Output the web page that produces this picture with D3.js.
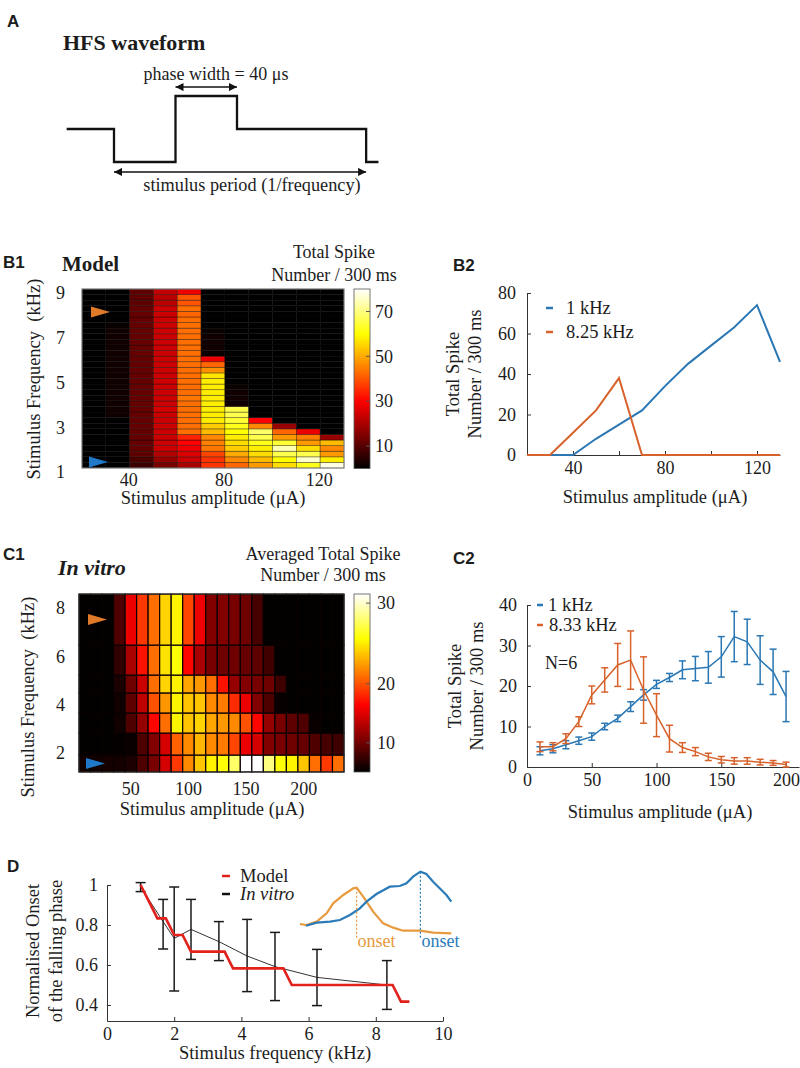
<!DOCTYPE html>
<html>
<head>
<meta charset="utf-8">
<script src="https://cdn.jsdelivr.net/npm/d3@7"></script>
<style>
  html,body{margin:0;padding:0;background:#fff;}
  svg{display:block;}
</style>
</head>
<body>
<svg id="fig" width="800" height="1068" xmlns="http://www.w3.org/2000/svg"></svg>
<script>
// ======================= DATA =======================
// Panel A : schematic HFS waveform (time in phase-width units, relative level)
const waveTime  = [-0.77, 0, 0, 1, 1, 2, 2, 4.1, 4.1, 4.3];
const waveLevel = [0, 0, -1, -1, 1, 1, 0, 0, -1, -1];

// Panel B1 : model heat map (pcolor cells: amplitude start, frequency start)
const b1Amps  = [20, 30, 40, 50, 60, 70, 80, 90, 100, 110, 120];
const b1Freqs = [1.00,1.25,1.50,1.75,2.00,2.25,2.50,2.75,3.00,3.25,3.50,3.75,4.00,4.25,4.50,4.75,
                 5.00,5.25,5.50,5.75,6.00,6.25,6.50,6.75,7.00,7.25,7.50,7.75,8.00,8.25,8.50,8.75];
const b1Spikes = [
  [0, 0,  7, 14, 20, 36, 42, 48, 56, 62, 78],
  [0, 0,  9, 18, 24, 36, 46, 52, 60, 76, 58],
  [0, 0, 11, 21, 26, 38, 50, 56, 66, 66, 48],
  [0, 0, 12, 24, 28, 44, 54, 58, 74, 56, 46],
  [0, 0, 12, 24, 30, 45, 56, 62, 64, 48, 52],
  [0, 0, 12, 24, 34, 46, 58, 66, 48, 45, 18],
  [0, 0, 12, 24, 43, 52, 60, 68, 42, 28,  0],
  [0, 0, 12, 24, 43, 54, 62, 46, 18,  0,  0],
  [0, 0, 12, 24, 43, 58, 64, 30,  0,  0,  0],
  [0, 2, 12, 24, 43, 58, 66,  0,  0,  0,  0],
  [0, 2, 12, 25, 43, 58, 66,  0,  0,  0,  0],
  [0, 2, 12, 24, 43, 58,  2,  0,  0,  0,  0],
  [0, 2, 12, 24, 44, 58,  2,  0,  0,  0,  0],
  [0, 2, 12, 24, 43, 58,  2,  0,  0,  0,  0],
  [0, 2, 12, 24, 43, 58,  1,  0,  0,  0,  0],
  [0, 2, 12, 24, 43, 58,  0,  0,  0,  0,  0],
  [0, 2, 12, 24, 43, 57,  0,  0,  0,  0,  0],
  [0, 2, 12, 24, 43, 47,  0,  0,  0,  0,  0],
  [0, 2, 12, 24, 43, 42,  0,  0,  0,  0,  0],
  [0, 2, 12, 24, 43, 28,  0,  0,  0,  0,  0],
  [0, 2, 12, 24, 43,  1,  0,  0,  0,  0,  0],
  [0, 2, 12, 24, 43,  2,  0,  0,  0,  0,  0],
  [0, 2, 12, 24, 43,  2,  0,  0,  0,  0,  0],
  [0, 2, 12, 24, 43,  2,  0,  0,  0,  0,  0],
  [0, 2, 12, 24, 43,  1,  0,  0,  0,  0,  0],
  [0, 1, 12, 24, 43,  0,  0,  0,  0,  0,  0],
  [0, 0, 12, 24, 43,  0,  0,  0,  0,  0,  0],
  [0, 0, 12, 24, 42,  0,  0,  0,  0,  0,  0],
  [0, 0, 12, 24, 43,  0,  0,  0,  0,  0,  0],
  [0, 0, 11, 22, 40,  0,  0,  0,  0,  0,  0],
  [0, 0, 11, 22, 40,  0,  0,  0,  0,  0,  0],
  [0, 0, 11, 23, 28,  0,  0,  0,  0,  0,  0]
];
const b1TickY = [1, 3, 5, 7, 9];
const b1TickX = [40, 80, 120];
const b1BarTicks = [10, 30, 50, 70];
const b1MarkFreq = [7.97, 1.27];   // arrowheads: 8.25 kHz and 1 kHz rows

// Panel B2 : model spike counts
const b2Amps   = [20, 30, 40, 50, 60, 70, 80, 90, 100, 110, 120, 130];
const b2OneKHz = [0, 0, 0, 8, 15, 22, 34, 45, 54, 63, 74, 46];
const b2Eight  = [0, 0, 11, 22, 38, 0, 0, 0, 0, 0, 0, 0];
const b2TickX  = [40, 60, 80, 100, 120];
const b2LabelX = [40, 80, 120];
const b2TickY  = [0, 20, 40, 60, 80];

// Panel C1 : in vitro heat map (7 frequency bins x 23 amplitudes)
const c1Amps = [10,20,30,40,50,60,70,80,90,100,110,120,130,140,150,160,170,180,190,200,210,220,230];
const c1FreqEdges = [1.05, 1.75, 2.66, 3.49, 4.32, 5.06, 6.30, 8.41];
const c1Spikes = [
  [3, 3, 3.5, 3.5, 4, 8, 10.5, 15, 19, 22, 24, 25.5, 26, 28, 31, 31, 28.5, 26, 25.5, 24, 21, 19, 21],
  [1, 1, 1, 1.5, 2, 8, 11, 15, 20.5, 22, 23.5, 22, 21.5, 19.5, 16, 15, 11, 10.5, 10, 9.5, 8, 7.5, 7],
  [1, 1, 1, 3, 8, 12, 17, 21, 25.5, 24, 24.5, 23, 22.5, 22, 20, 17, 12, 10.5, 9, 8, 2, 1, 1],
  [1, 1, 1, 3, 9, 14, 20, 22.5, 25.5, 24, 24, 22, 21.5, 18.5, 16, 11, 8, 2, 1, 1, 1, 1, 1],
  [1, 1, 1, 4, 10, 14.5, 21, 24.5, 25.5, 23, 22.5, 21, 17.5, 12, 11, 10.5, 10, 7, 1, 1, 1, 1, 1],
  [1, 1, 1, 6, 13, 17.5, 21, 25, 26, 17, 13, 10.5, 10, 10, 9.5, 9, 7, 1, 1, 1, 1, 1, 1],
  [1, 1, 1, 8, 16, 19, 21, 24.5, 25.5, 19.5, 16, 11, 11, 10.5, 10, 7.5, 1, 1, 1, 1, 1, 1, 1]
];
const c1TickY = [2, 4, 6, 8];
const c1TickX = [50, 100, 150, 200];
const c1BarTicks = [10, 20, 30];

// Panel C2 : in vitro spike counts (mean ± error)
const c2Amps      = [10,20,30,40,50,60,70,80,90,100,110,120,130,140,150,160,170,180,190,200];
const c2OneKHz    = [4.0, 4.5, 5.5, 6.5, 7.5, 10.0, 12.0, 14.9, 17.8, 20.4, 22.1, 24.0, 24.3, 24.6, 27.2, 32.2, 30.9, 26.4, 23.5, 17.4];
const c2OneErr    = [1.0, 1.0, 1.0, 0.9, 0.9, 0.8, 0.8, 1.2, 1.3, 1.0, 1.0, 2.2, 3.0, 3.9, 5.0, 6.2, 5.6, 6.0, 5.6, 6.2];
const c2Eight     = [5.0, 5.0, 7.0, 11.2, 17.8, 21.5, 25.2, 26.4, 19.0, 12.8, 7.0, 4.8, 3.8, 2.5, 1.8, 1.5, 1.5, 1.2, 1.0, 0.6];
const c2EightErr  = [1.2, 1.0, 1.2, 1.2, 2.2, 3.0, 5.3, 7.2, 8.2, 5.3, 3.3, 1.2, 1.0, 0.9, 0.8, 0.8, 0.8, 0.7, 0.6, 0.6];
const c2TickX = [0, 50, 100, 150, 200];
const c2TickY = [0, 10, 20, 30, 40];

// Panel D : normalised onset of the falling phase
const dModelFreq = [1,1.25,1.5,1.75,2,2.25,2.5,2.75,3,3.25,3.5,3.75,4,4.25,4.5,4.75,5,5.25,5.5,5.75,6,6.25,6.5,6.75,7,7.25,7.5,7.75,8,8.25,8.5,8.75,9];
const dModel = [1.0,0.917,0.833,0.833,0.75,0.75,0.667,0.667,0.667,0.667,0.667,0.583,0.583,0.583,0.583,0.583,0.583,0.583,
                0.5,0.5,0.5,0.5,0.5,0.5,0.5,0.5,0.5,0.5,0.5,0.5,0.5,0.417,0.417];
const dVitroFreq = [1, 1.67, 2, 2.5, 3.33, 4.17, 5, 6.25, 8.33];
const dVitroMean = [0.99, 0.817, 0.733, 0.778, 0.717, 0.645, 0.592, 0.538, 0.50];
const dVitroLo   = [0.967, 0.68, 0.47, 0.628, 0.622, 0.467, 0.422, 0.397, 0.378];
const dVitroHi   = [1.012, 0.928, 0.99, 0.928, 0.817, 0.828, 0.763, 0.678, 0.622];
const dTickX = [0, 2, 4, 6, 8, 10];
const dTickY = [0.4, 0.6, 0.8, 1];
// Inset sketch (normalised 0..1 coordinates)
const insetOrangeX = [0,0.043,0.109,0.174,0.217,0.283,0.348,0.37,0.413,0.478,0.543,0.609,0.674,0.783,0.87,0.989];
const insetOrangeY = [0.174,0.158,0.211,0.342,0.5,0.632,0.737,0.747,0.605,0.368,0.184,0.116,0.068,0.068,0.037,0.026];
const insetBlueX = [0.039,0.109,0.196,0.261,0.326,0.391,0.435,0.5,0.587,0.652,0.696,0.739,0.787,0.826,0.87,0.913,0.957,0.989];
const insetBlueY = [0.147,0.195,0.211,0.237,0.316,0.421,0.526,0.647,0.763,0.774,0.816,0.921,1.0,0.963,0.842,0.737,0.632,0.526];
const insetOnsetX = [0.37, 0.787];

// ======================= DRAWING =======================
const svg = d3.select("#fig");
const SERIF = '"Liberation Serif", "Times New Roman", Times, serif';
const SANS  = '"Liberation Sans", Arial, Helvetica, sans-serif';
const INK = "#1c1c1c";
const BLUE = "#2a77b4", ORANGE = "#d8622b", RED = "#e2201c";
const IN_OR = "#e89a3e", IN_BL = "#2b7bb9";

function hot(t) {
  t = Math.max(0, Math.min(1, t));
  const r = Math.min(1, t / 0.375);
  const g = Math.max(0, Math.min(1, (t - 0.375) / 0.375));
  const b = Math.max(0, Math.min(1, (t - 0.75) / 0.25));
  return d3.rgb(255 * r, 255 * g, 255 * b).formatHex();
}
function txt(p, x, y, s, o = {}) {
  return p.append("text").attr("x", x).attr("y", y).text(s)
    .attr("font-family", o.family || SERIF).attr("font-size", o.size || 18)
    .attr("font-weight", o.weight || null).attr("font-style", o.style || null)
    .attr("text-anchor", o.anchor || "start").attr("fill", o.fill || INK)
    .style("white-space", "pre");
}
function vtxt(p, cx, cy, s, o = {}) {
  return p.append("text").attr("transform", `translate(${cx},${cy}) rotate(-90)`)
    .attr("dy", "0.35em").text(s)
    .attr("font-family", o.family || SERIF).attr("font-size", o.size || 18.5)
    .attr("text-anchor", "middle").attr("fill", INK).style("white-space", "pre");
}
function axisStyle(sel) {
  sel.attr("font-family", SERIF).attr("font-size", 18);
  sel.selectAll(".tick text").attr("fill", INK);
  sel.selectAll(".tick line").attr("stroke", "#333");
  sel.select(".domain").attr("stroke", "#333");
}
const defs = svg.append("defs");
defs.append("marker").attr("id", "arr").attr("viewBox", "0 0 10 10")
  .attr("refX", 10).attr("refY", 5).attr("markerWidth", 11).attr("markerHeight", 8)
  .attr("markerUnits", "userSpaceOnUse").attr("orient", "auto-start-reverse")
  .append("path").attr("d", "M0,0L10,5L0,10z").attr("fill", "#111");
function hotGradient(id) {
  const g = defs.append("linearGradient").attr("id", id)
    .attr("x1", 0).attr("y1", 1).attr("x2", 0).attr("y2", 0);
  [[0, "#000000"], [0.375, "#ff0000"], [0.75, "#ffff00"], [1, "#ffffff"]]
    .forEach(([o, c]) => g.append("stop").attr("offset", o).attr("stop-color", c));
}
hotGradient("hotB"); hotGradient("hotC");

// Panel letters
const L = {family: SANS, weight: "bold", size: 17};
txt(svg, 7, 27, "A", L);
txt(svg, 3, 268, "B1", L);
txt(svg, 453, 271, "B2", L);
txt(svg, 3, 560, "C1", L);
txt(svg, 453, 564, "C2", L);
txt(svg, 7, 872, "D", L);

// ---------------- Panel A ----------------
{
  const xA = d3.scaleLinear().domain([0, 1]).range([114, 175.5]);
  const yA = d3.scaleLinear().domain([-1, 1]).range([162, 96]);
  const g = svg.append("g");
  txt(g, 63, 50, "HFS waveform", {weight: "bold", size: 22});
  g.append("path").datum(d3.range(waveTime.length))
    .attr("d", d3.line().x(i => xA(waveTime[i])).y(i => yA(waveLevel[i])))
    .attr("fill", "none").attr("stroke", "#111").attr("stroke-width", 2.3);
  g.append("line").attr("x1", xA(1)).attr("x2", xA(2)).attr("y1", yA(1.27)).attr("y2", yA(1.27))
    .attr("stroke", "#111").attr("stroke-width", 1.5)
    .attr("marker-start", "url(#arr)").attr("marker-end", "url(#arr)");
  g.append("line").attr("x1", xA(0)).attr("x2", xA(4.1)).attr("y1", yA(-1.3)).attr("y2", yA(-1.3))
    .attr("stroke", "#111").attr("stroke-width", 1.5)
    .attr("marker-start", "url(#arr)").attr("marker-end", "url(#arr)");
  txt(g, 216, 80, "phase width = 40 \u03bcs", {anchor: "middle", size: 18});
  txt(g, 252, 191, "stimulus period (1/frequency)", {anchor: "middle", size: 18.3});
}

// ---------------- Panel B1 ----------------
{
  const xB1 = d3.scaleLinear().domain([20, 130]).range([82, 344]);
  const yB1 = d3.scaleLinear().domain([1, 9]).range([468, 289]);
  const cB1 = d3.scaleLinear().domain([0, 80]).range([0, 1]).clamp(true);
  const g = svg.append("g");
  const cells = [];
  b1Freqs.forEach((f, i) => b1Amps.forEach((a, j) => cells.push({a, f, v: b1Spikes[i][j]})));
  g.selectAll("rect.cell").data(cells).join("rect").attr("class", "cell")
    .attr("x", d => xB1(d.a)).attr("y", d => yB1(d.f + 0.25))
    .attr("width", d => xB1(d.a + 10) - xB1(d.a)).attr("height", d => yB1(d.f) - yB1(d.f + 0.25))
    .attr("fill", d => hot(cB1(d.v)))
    .attr("stroke", "rgba(0,0,0,0.5)").attr("stroke-width", 0.7);
  g.append("rect").attr("x", xB1(20)).attr("y", yB1(9)).attr("width", xB1(130) - xB1(20))
    .attr("height", yB1(1) - yB1(9)).attr("fill", "none").attr("stroke", "#888").attr("stroke-width", 1);
  const tri = (tipX, cy, col) => g.append("path")
    .attr("d", `M${tipX - 19},${cy - 5.5}L${tipX},${cy}L${tipX - 19},${cy + 5.5}Z`).attr("fill", col);
  tri(110, yB1(b1MarkFreq[0]), "#e07a28");
  tri(108, yB1(b1MarkFreq[1]), "#1f78c8");
  b1TickY.forEach(v => txt(g, 65, yB1(v) + 4, v, {anchor: "end", size: 18}).attr("dy", "0.35em"));
  b1TickX.forEach(v => txt(g, xB1(v) - 1, 486, v, {anchor: "middle", size: 18}));
  txt(g, 213, 504, "Stimulus amplitude (\u03bcA)", {anchor: "middle", size: 18.5});
  vtxt(g, 34, 379, "Stimulus Frequency  (kHz)");
  txt(g, 62, 271, "Model", {weight: "bold", size: 21});
  const cb = d3.scaleLinear().domain([0, 80]).range([468.5, 289]);
  g.append("rect").attr("x", 354).attr("y", 289).attr("width", 16).attr("height", 179.5)
    .attr("fill", "url(#hotB)").attr("stroke", "#555").attr("stroke-width", 0.8);
  b1BarTicks.forEach(v => {
    g.append("line").attr("x1", 366).attr("x2", 370).attr("y1", cb(v)).attr("y2", cb(v)).attr("stroke", "#555");
    txt(g, 375, cb(v), v, {size: 18}).attr("dy", "0.35em");
  });
  txt(g, 334, 258, "Total Spike", {anchor: "middle", size: 18});
  txt(g, 334, 281, "Number / 300 ms", {anchor: "middle", size: 18});
}

// ---------------- Panel B2 ----------------
{
  const xB2 = d3.scaleLinear().domain([20, 130]).range([527, 780]);
  const yB2 = d3.scaleLinear().domain([0, 80]).range([455, 293]);
  const g = svg.append("g");
  g.append("g").attr("transform", `translate(0,${yB2(0)})`)
    .call(d3.axisBottom(xB2).tickValues(b2TickX).tickFormat(d => b2LabelX.includes(d) ? d : "")
      .tickSizeInner(-4).tickSizeOuter(0).tickPadding(6)).call(axisStyle);
  g.append("g").attr("transform", `translate(${xB2(20)},0)`)
    .call(d3.axisLeft(yB2).tickValues(b2TickY).tickSizeInner(-4).tickSizeOuter(0).tickPadding(11)).call(axisStyle);
  const ln = d3.line().x(d => xB2(d[0])).y(d => yB2(d[1]));
  g.append("path").datum(b2Amps.map((a, i) => [a, b2OneKHz[i]])).attr("d", ln)
    .attr("fill", "none").attr("stroke", BLUE).attr("stroke-width", 2);
  g.append("path").datum(b2Amps.map((a, i) => [a, b2Eight[i]])).attr("d", ln)
    .attr("fill", "none").attr("stroke", ORANGE).attr("stroke-width", 2);
  g.append("line").attr("x1", 546).attr("x2", 553).attr("y1", 308).attr("y2", 308).attr("stroke", BLUE).attr("stroke-width", 2.5);
  g.append("line").attr("x1", 546).attr("x2", 553).attr("y1", 332).attr("y2", 332).attr("stroke", ORANGE).attr("stroke-width", 2.5);
  txt(g, 566, 308, "1 kHz", {size: 18.5}).attr("dy", "0.35em");
  txt(g, 566, 332, "8.25 kHz", {size: 18.5}).attr("dy", "0.35em");
  vtxt(g, 453, 374, "Total Spike");
  vtxt(g, 475, 374, "Number / 300 ms");
  txt(g, 655, 503, "Stimulus amplitude (\u03bcA)", {anchor: "middle", size: 18.5});
}

// ---------------- Panel C1 ----------------
{
  const xC1 = d3.scaleLinear().domain([5, 235]).range([79, 344]);
  const yC1 = d3.scaleLinear().domain([2, 8]).range([749, 604]);
  const cC1 = d3.scalePow().exponent(1.6).domain([0, 31]).range([0, 1]).clamp(true);
  const g = svg.append("g");
  const cells = [];
  c1Spikes.forEach((row, i) => row.forEach((v, j) =>
    cells.push({a: c1Amps[j], f0: c1FreqEdges[i], f1: c1FreqEdges[i + 1], v})));
  g.selectAll("rect.cell").data(cells).join("rect").attr("class", "cell")
    .attr("x", d => xC1(d.a - 5)).attr("y", d => yC1(d.f1))
    .attr("width", d => xC1(d.a + 5) - xC1(d.a - 5)).attr("height", d => yC1(d.f0) - yC1(d.f1))
    .attr("fill", d => hot(cC1(d.v)))
    .attr("stroke", "#0a0000").attr("stroke-width", 1.2);
  g.append("rect").attr("x", xC1(5)).attr("y", yC1(c1FreqEdges[7])).attr("width", xC1(235) - xC1(5))
    .attr("height", yC1(c1FreqEdges[0]) - yC1(c1FreqEdges[7])).attr("fill", "none").attr("stroke", "#333").attr("stroke-width", 1);
  const tri = (tipX, cy, col) => g.append("path")
    .attr("d", `M${tipX - 19},${cy - 5.5}L${tipX},${cy}L${tipX - 19},${cy + 5.5}Z`).attr("fill", col);
  tri(107, yC1((c1FreqEdges[6] + c1FreqEdges[7]) / 2), "#e07a28");
  tri(105, yC1((c1FreqEdges[0] + c1FreqEdges[1]) / 2), "#1f78c8");
  c1TickY.forEach(v => txt(g, 65, yC1(v) + 4, v, {anchor: "end", size: 18}).attr("dy", "0.35em"));
  c1TickX.forEach(v => txt(g, xC1(v), 795, v, {anchor: "middle", size: 18}));
  txt(g, 212, 815, "Stimulus amplitude (\u03bcA)", {anchor: "middle", size: 18.5});
  vtxt(g, 28, 697, "Stimulus Frequency  (kHz)");
  txt(g, 58, 575, "In vitro", {weight: "bold", style: "italic", size: 22});
  const cb = d3.scalePow().exponent(1.6).domain([0, 31]).range([772, 594]);
  g.append("rect").attr("x", 354).attr("y", 594).attr("width", 16).attr("height", 178)
    .attr("fill", "url(#hotC)").attr("stroke", "#555").attr("stroke-width", 0.8);
  c1BarTicks.forEach(v => {
    g.append("line").attr("x1", 366).attr("x2", 370).attr("y1", cb(v)).attr("y2", cb(v)).attr("stroke", "#555");
    txt(g, 377, cb(v), v, {size: 18}).attr("dy", "0.35em");
  });
  txt(g, 323, 560, "Averaged Total Spike", {anchor: "middle", size: 18});
  txt(g, 323, 581, "Number / 300 ms", {anchor: "middle", size: 18});
}

// ---------------- Panel C2 ----------------
{
  const xC2 = d3.scaleLinear().domain([0, 210]).range([527, 799]);
  const yC2 = d3.scaleLinear().domain([0, 40]).range([767, 605]);
  const g = svg.append("g");
  g.append("g").attr("transform", `translate(0,${yC2(0)})`)
    .call(d3.axisBottom(xC2).tickValues(c2TickX).tickSizeInner(-4).tickSizeOuter(0).tickPadding(6)).call(axisStyle);
  g.append("g").attr("transform", `translate(${xC2(0)},0)`)
    .call(d3.axisLeft(yC2).tickValues(c2TickY).tickSizeInner(-4).tickSizeOuter(0).tickPadding(10)).call(axisStyle);
  const ln = d3.line().x(d => xC2(d.a)).y(d => yC2(d.m));
  const series = [
    {m: c2OneKHz, e: c2OneErr, col: BLUE},
    {m: c2Eight, e: c2EightErr, col: ORANGE}
  ];
  series.forEach(s => {
    const pts = c2Amps.map((a, i) => ({a, m: s.m[i], e: s.e[i]}));
    const gs = g.append("g").attr("stroke", s.col).attr("stroke-width", 1.5).attr("fill", "none");
    gs.append("path").datum(pts).attr("d", ln);
    gs.selectAll("line.v").data(pts).join("line").attr("class", "v")
      .attr("x1", d => xC2(d.a)).attr("x2", d => xC2(d.a))
      .attr("y1", d => yC2(Math.max(0, d.m - d.e))).attr("y2", d => yC2(d.m + d.e));
    gs.selectAll("line.t").data(pts).join("line").attr("class", "t")
      .attr("x1", d => xC2(d.a) - 3.5).attr("x2", d => xC2(d.a) + 3.5)
      .attr("y1", d => yC2(d.m + d.e)).attr("y2", d => yC2(d.m + d.e));
    gs.selectAll("line.b").data(pts).join("line").attr("class", "b")
      .attr("x1", d => xC2(d.a) - 3.5).attr("x2", d => xC2(d.a) + 3.5)
      .attr("y1", d => yC2(Math.max(0, d.m - d.e))).attr("y2", d => yC2(Math.max(0, d.m - d.e)));
  });
  g.append("line").attr("x1", 537).attr("x2", 543).attr("y1", 605).attr("y2", 605).attr("stroke", BLUE).attr("stroke-width", 2.5);
  g.append("line").attr("x1", 537).attr("x2", 543).attr("y1", 625).attr("y2", 625).attr("stroke", ORANGE).attr("stroke-width", 2.5);
  txt(g, 548, 605, "1 kHz", {size: 18.5}).attr("dy", "0.35em");
  txt(g, 549, 625, "8.33 kHz", {size: 18.5}).attr("dy", "0.35em");
  txt(g, 545, 663, "N=6", {size: 18}).attr("dy", "0.35em");
  vtxt(g, 455, 686, "Total Spike");
  vtxt(g, 477, 686, "Number / 300 ms");
  txt(g, 660, 818, "Stimulus amplitude (\u03bcA)", {anchor: "middle", size: 18.5});
}

// ---------------- Panel D ----------------
{
  const xD = d3.scaleLinear().domain([0, 10]).range([107, 443]);
  const yD = d3.scaleLinear().domain([0.32, 1]).range([1021, 885]);
  const g = svg.append("g");
  g.append("g").attr("transform", `translate(0,${yD(0.32)})`)
    .call(d3.axisBottom(xD).tickValues(dTickX).tickSizeInner(-4).tickSizeOuter(0).tickPadding(6)).call(axisStyle);
  g.append("g").attr("transform", `translate(${xD(0)},0)`)
    .call(d3.axisLeft(yD).tickValues(dTickY).tickFormat(d => d === 1 ? "1" : d.toFixed(1))
      .tickSizeInner(-4).tickSizeOuter(0).tickPadding(9)).call(axisStyle);
  const vit = dVitroFreq.map((f, i) => ({f, m: dVitroMean[i], lo: dVitroLo[i], hi: dVitroHi[i]}));
  const gv = g.append("g").attr("stroke", "#1a1a1a").attr("fill", "none");
  gv.append("path").datum(vit).attr("d", d3.line().x(d => xD(d.f)).y(d => yD(d.m))).attr("stroke-width", 1).attr("stroke", "#333");
  gv.selectAll("line.v").data(vit).join("line").attr("class", "v").attr("stroke-width", 1.5)
    .attr("x1", d => xD(d.f)).attr("x2", d => xD(d.f)).attr("y1", d => yD(d.lo)).attr("y2", d => yD(d.hi));
  gv.selectAll("line.t").data(vit).join("line").attr("class", "t").attr("stroke-width", 1.5)
    .attr("x1", d => xD(d.f) - 5).attr("x2", d => xD(d.f) + 5).attr("y1", d => yD(d.hi)).attr("y2", d => yD(d.hi));
  gv.selectAll("line.b").data(vit).join("line").attr("class", "b").attr("stroke-width", 1.5)
    .attr("x1", d => xD(d.f) - 5).attr("x2", d => xD(d.f) + 5).attr("y1", d => yD(d.lo)).attr("y2", d => yD(d.lo));
  g.append("path").datum(dModelFreq.map((f, i) => [f, dModel[i]]))
    .attr("d", d3.line().x(d => xD(d[0])).y(d => yD(d[1])))
    .attr("fill", "none").attr("stroke", RED).attr("stroke-width", 2.6);
  g.append("line").attr("x1", 222).attr("x2", 230).attr("y1", 876).attr("y2", 876).attr("stroke", RED).attr("stroke-width", 2.5);
  g.append("line").attr("x1", 222).attr("x2", 230).attr("y1", 894).attr("y2", 894).attr("stroke", "#111").attr("stroke-width", 2.5);
  txt(g, 240, 876, "Model", {size: 18.5}).attr("dy", "0.35em");
  txt(g, 240, 894, "In vitro", {size: 18.5, style: "italic"}).attr("dy", "0.35em");
  const xi = d3.scaleLinear().domain([0, 1]).range([300, 453]);
  const yi = d3.scaleLinear().domain([0, 1]).range([935, 871.7]);
  const li = d3.line().x(d => xi(d[0])).y(d => yi(d[1]));
  g.append("path").datum(insetOrangeX.map((x, i) => [x, insetOrangeY[i]])).attr("d", li)
    .attr("fill", "none").attr("stroke", IN_OR).attr("stroke-width", 2.2);
  g.append("path").datum(insetBlueX.map((x, i) => [x, insetBlueY[i]])).attr("d", li)
    .attr("fill", "none").attr("stroke", IN_BL).attr("stroke-width", 2.2);
  const peakY = [d3.max(insetOrangeY), d3.max(insetBlueY)];
  [IN_OR, IN_BL].forEach((c, k) => {
    g.append("line").attr("x1", xi(insetOnsetX[k])).attr("x2", xi(insetOnsetX[k]))
      .attr("y1", yi(peakY[k])).attr("y2", yi(-0.05))
      .attr("stroke", c).attr("stroke-width", 1.2).attr("stroke-dasharray", "2,2");
    txt(g, xi(insetOnsetX[k]) + 1, 947, "onset", {size: 18, fill: c});
  });
  vtxt(g, 33, 951, "Normalised Onset");
  vtxt(g, 56, 951, "of the falling phase");
  txt(g, 275, 1059, "Stimulus frequency (kHz)", {anchor: "middle", size: 18.5});
}
</script>
</body>
</html>
